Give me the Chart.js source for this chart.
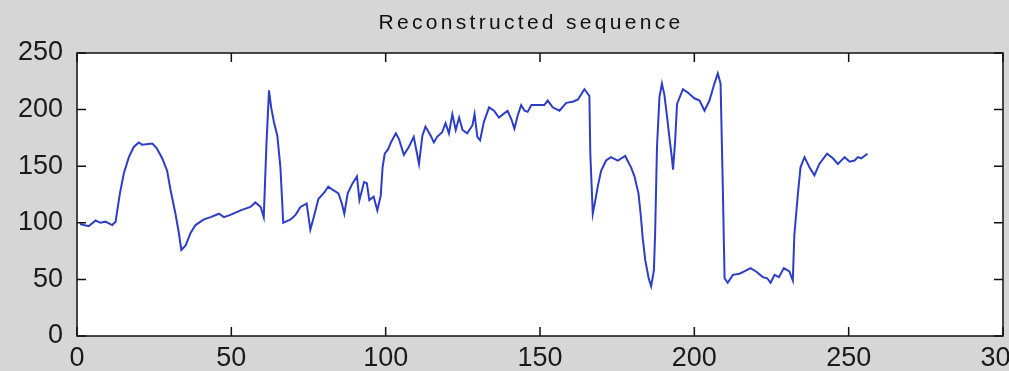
<!DOCTYPE html>
<html>
<head>
<meta charset="utf-8">
<script src="https://cdn.jsdelivr.net/npm/chart.js@4"></script>
<style>
  html, body { margin:0; padding:0; background:#d6d6d6; overflow:hidden; }
  #wrap { position:relative; width:1050px; height:371px; }
</style>
</head>
<body>
<div id="wrap"><canvas id="seqChart"></canvas></div>
<script>
/* ===============================
   DATA
================================ */
const chartTitle = "Reconstructed sequence";

const seqX = [1,2.2,3.8,6,7.6,9.2,11.4,12.5,13.9,15.2,16.8,18.4,20,21.1,24.4,25.8,27.6,29.2,30.3,31.9,
  33,33.8,35.2,36.8,38.4,41.1,43.3,46,47.6,49.7,53,56.2,57.8,59.5,60.5,61.4,62.2,62.9,63.8,64.9,
  65.9,66.5,66.8,69.2,70.8,72.4,74.4,75.6,76.7,78.2,80.2,81.4,82.9,84.7,85.8,86.6,87.7,89.3,90.7,91.5,
  93,93.9,94.7,96.1,97.3,98.4,99,99.7,100.8,101.7,103.3,104.3,105.9,107.5,109.1,110.8,111.9,112.9,114.6,115.6,
  116.7,118.3,119.4,120.5,121.6,122.7,123.8,124.9,126.4,128.1,128.8,129.7,130.6,131.8,133.5,135.1,136.7,138.1,139.5,140.8,
  141.7,142.8,143.9,145,146,147.2,151.4,152.5,154.1,156.3,158.5,160.6,162.3,164.4,166,166.3,167.1,167.8,168.7,169.8,
  171.4,173,175.2,177.6,179.5,180.6,181.9,182.6,183.3,184.1,185.2,186,186.9,187.3,187.9,188.7,189.5,190.3,191.2,191.9,
  192.7,193.1,193.8,194.4,196.3,197.9,200,201.7,203.3,204.9,206.5,207.6,208.5,209.2,209.8,210.8,212.5,214.6,216.2,218.2,
  220,222.2,223.6,224.7,226,227.4,229,230.8,231.9,232.4,233.5,234.4,235.7,237.3,238.9,240.5,243,244.9,246.5,248.7,
  250.3,251.9,253,254.1,256.1];

const seqY = [99,98,97,102,100,101,98,101,126,144,158,167,171,169,170,166,157,146,129,108,
  91,76,80,91,98,103,105,108,105,107,111,114,118,114,105,171,217,202,189,177,
  149,117,100,103,107,114,117,94,105,121,127,132,129,126,117,108,126,135,141,120,
  136,135,120,123,111,124,149,161,165,171,179,174,160,167,176,152,177,185,177,171,
  176,180,188,179,196,182,193,182,179,186,196,176,173,189,202,199,193,196,199,191,
  183,195,204,199,198,204,204,208,202,199,206,207,209,218,212,161,108,118,132,146,
  155,158,155,159,149,141,126,108,86,67,51,44,58,91,167,211,223,213,193,176,
  158,147,173,205,218,215,210,208,199,208,223,232,223,135,51,47,54,55,57,60,
  57,52,51,47,54,52,60,57,49,89,124,149,158,149,142,152,161,157,152,158,
  154,155,158,157,161];

const xTicks = [0,50,100,150,200,250,300];
const yTicks = [0,50,100,150,200,250];

/* ===============================
   PLOT BOX + INSIDE TICKS + TITLE
================================ */
const matlabAxes = {
  id:"matlabAxes",
  beforeDraw(chart){
    const {ctx, chartArea:a} = chart;
    ctx.save();
    ctx.fillStyle = "#ffffff";
    ctx.fillRect(a.left, a.top, a.right-a.left, a.bottom-a.top);
    ctx.restore();
  },
  afterDraw(chart){
    const {ctx, chartArea:a, scales} = chart;
    const tl = 9;
    ctx.save();
    ctx.strokeStyle = "#111";
    ctx.lineWidth = 1.5;
    ctx.strokeRect(a.left, a.top, a.right-a.left, a.bottom-a.top);
    ctx.beginPath();
    xTicks.forEach(v=>{
      const px = scales.x.getPixelForValue(v);
      ctx.moveTo(px, a.bottom); ctx.lineTo(px, a.bottom-tl);
      ctx.moveTo(px, a.top);    ctx.lineTo(px, a.top+tl);
    });
    yTicks.forEach(v=>{
      const py = scales.y.getPixelForValue(v);
      ctx.moveTo(a.left, py);  ctx.lineTo(a.left+tl, py);
      ctx.moveTo(a.right, py); ctx.lineTo(a.right-tl, py);
    });
    ctx.stroke();

    // title, spaced out like the original
    ctx.fillStyle = "#111";
    ctx.font = "21px 'Liberation Sans', Arial, sans-serif";
    ctx.letterSpacing = "3.3px";
    ctx.textAlign = "left";
    ctx.textBaseline = "alphabetic";
    const w = ctx.measureText(chartTitle).width;
    ctx.fillText(chartTitle, 531 - w/2, 28.5);
    ctx.restore();
  }
};

/* ===============================
   CHART
================================ */
const tickFont = {family:"'Liberation Sans', Arial, sans-serif", size:27};

new Chart(document.getElementById("seqChart"), {
  type:"line",
  data:{
    datasets:[{
      data: seqX.map((x,i)=>({x:x, y:seqY[i]})),
      borderColor:"#2d3ec6",
      borderWidth:2,
      pointRadius:0,
      tension:0,
      fill:false
    }]
  },
  options:{
    responsive:true,
    maintainAspectRatio:false,
    animation:false,
    layout:{padding:{top:53, right:47, left:0, bottom:0}},
    plugins:{legend:{display:false}, tooltip:{enabled:false}, title:{display:false}},
    scales:{
      x:{
        type:"linear", min:0, max:300,
        afterBuildTicks:s=>{ s.ticks = xTicks.map(v=>({value:v})); },
        afterFit:s=>{ s.height = 35; },
        grid:{display:false, drawTicks:false},
        border:{display:false},
        ticks:{font:tickFont, color:"#1a1a1a", padding:6, maxRotation:0, autoSkip:false}
      },
      y:{
        min:0, max:250,
        afterBuildTicks:s=>{ s.ticks = yTicks.map(v=>({value:v})); },
        afterFit:s=>{ s.width = 77; },
        grid:{display:false, drawTicks:false},
        border:{display:false},
        ticks:{font:tickFont, color:"#1a1a1a", padding:14}
      }
    }
  },
  plugins:[matlabAxes]
});
</script>
</body>
</html>
